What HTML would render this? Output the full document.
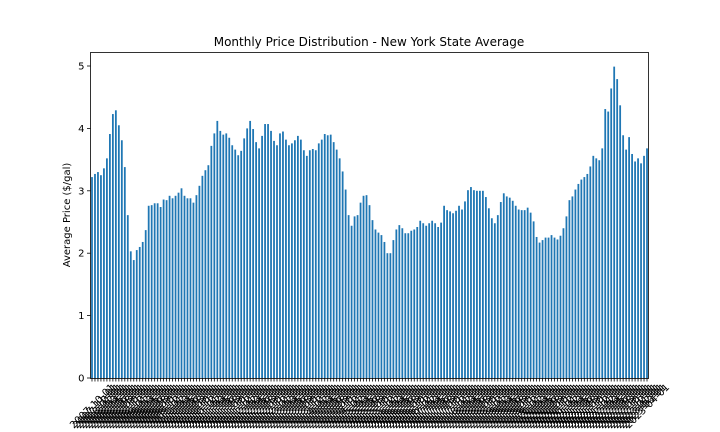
<!DOCTYPE html>
<html><head><meta charset="utf-8"><style>
body{margin:0;background:#fff;}
svg{display:block;font-family:"DejaVu Sans","Liberation Sans",sans-serif;}
</style></head><body>
<svg id="chart" width="720" height="432" viewBox="0 0 720 432">
<rect x="0" y="0" width="720" height="432" fill="#fff"/>
<text x="369" y="46" text-anchor="middle" font-size="12">Monthly Price Distribution - New York State Average</text>
<text x="0" y="0" transform="translate(70,215) rotate(-90)" text-anchor="middle" font-size="10">Average Price ($/gal)</text>
<g id="bars"></g>
<g id="yticks"></g>
<g id="xticks"></g>
<rect x="90.5" y="52.5" width="558" height="326" fill="none" stroke="#000" stroke-width="0.8"/>
</svg>
<script>
const prices = [3.22,3.27,3.30,3.25,3.36,3.52,3.91,4.23,4.29,4.05,3.81,3.38,2.61,2.03,1.89,2.05,2.10,2.18,2.37,2.76,2.77,2.80,2.80,2.74,2.86,2.85,2.92,2.88,2.92,2.97,3.04,2.92,2.88,2.88,2.81,2.93,3.08,3.24,3.33,3.41,3.72,3.92,4.12,3.96,3.90,3.92,
3.85,3.73,3.66,3.57,3.64,3.84,4.00,4.12,3.99,3.78,3.68,3.88,4.07,4.07,3.96,3.80,3.73,3.92,3.95,3.82,3.73,3.76,3.81,3.88,3.82,3.65,3.56,3.65,3.67,3.65,3.76,3.82,3.91,3.89,3.90,3.78,3.66,3.52,3.31,3.02,2.61,2.44,2.59,2.61,2.81,2.92,
2.93,2.77,2.53,2.38,2.33,2.29,2.18,2.00,2.00,2.21,2.38,2.45,2.40,2.32,2.32,2.36,2.38,2.42,2.52,2.48,2.44,2.48,2.52,2.48,2.42,2.49,2.76,2.69,2.67,2.64,2.68,2.76,2.70,2.83,3.01,3.06,3.01,3.00,3.00,3.00,2.90,2.72,2.56,2.48,2.61,2.82,2.96,2.91,
2.89,2.84,2.76,2.70,2.69,2.69,2.73,2.65,2.51,2.26,2.17,2.21,2.25,2.25,2.29,2.25,2.22,2.28,2.40,2.59,2.85,2.91,3.02,3.11,3.18,3.22,3.27,3.39,3.56,3.52,3.49,3.68,4.31,4.27,4.64,4.99,4.79,4.37,3.89,3.66,3.86,3.59,3.47,3.52,3.44,3.56,3.68];
const yTickValues = [0,1,2,3,4,5];
const startYear = 2007, startMonth = 10;
const categories = [];
for (let i = 0; i < prices.length; i++) {
  const m = startMonth - 1 + i;
  const yy = startYear + Math.floor(m / 12), mm = (m % 12) + 1;
  categories.push(yy + '-' + String(mm).padStart(2,'0') + '-01');
}
const NS = 'http://www.w3.org/2000/svg';
const L = 90.5, R = 648.5, T = 52.5, B = 378;
const n = prices.length;
const step = (R - L) / n;
function xScale(i){ return L + (i + 0.5) * step; }
function yScale(v){ return B - v * 62.4; }
function mk(tag, attrs){ const e = document.createElementNS(NS, tag); for (const k in attrs) e.setAttribute(k, attrs[k]); return e; }
const gb = document.getElementById('bars');
prices.forEach((v, i) => {
  const w = step * 0.6;
  const r = mk('rect', {x: xScale(i) - w/2, y: yScale(v), width: w, height: B - yScale(v), fill: '#1f77b4'});
  
  
  gb.appendChild(r);
});
const gy = document.getElementById('yticks');
yTickValues.forEach(v => {
  const y = yScale(v);
  const l = mk('line', {x1: L - 3.5, x2: L, y1: y, y2: y, stroke: '#000', 'stroke-width': 0.8});
  
  
  gy.appendChild(l);
  const t = mk('text', {x: L - 6, y: y + 3.5, 'text-anchor': 'end', 'font-size': 10});
  
  
  t.textContent = v;
  gy.appendChild(t);
});
const gx = document.getElementById('xticks');
categories.forEach((c, i) => {
  const x = xScale(i);
  const l = mk('line', {x1: x, x2: x, y1: B, y2: B + 3.5, stroke: '#000', 'stroke-width': 0.8});
  
  
  gx.appendChild(l);
  const t = mk('text', {x: 0, y: 3.5, 'text-anchor': 'middle', 'font-size': 10, transform: 'translate(' + x + ',' + (B + 28) + ') rotate(-45)'});
  
  
  t.textContent = c;
  gx.appendChild(t);
});
</script>
</body></html>
